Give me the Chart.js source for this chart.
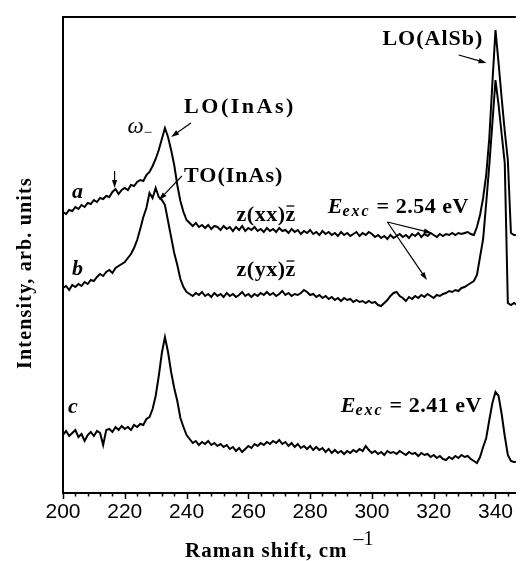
<!DOCTYPE html>
<html>
<head>
<meta charset="utf-8">
<script src="https://cdn.jsdelivr.net/npm/chart.js@4.4.0/dist/chart.umd.min.js"></script>
<style>
  html, body { margin: 0; padding: 0; background: #fff; }
</style>
</head>
<body>
<canvas id="raman" width="520" height="561"></canvas>
<script>
// Raman shift grid, cm^-1
const shift = [
  200,201,202,203,204,205,206,207,208,209,
  210,211,212,213,214,215,216,217,218,219,
  220,221,222,223,224,225,226,227,228,229,
  230,231,232,233,234,235,236,237,238,239,
  240,241,242,243,244,245,246,247,248,249,
  250,251,252,253,254,255,256,257,258,259,
  260,261,262,263,264,265,266,267,268,269,
  270,271,272,273,274,275,276,277,278,279,
  280,281,282,283,284,285,286,287,288,289,
  290,291,292,293,294,295,296,297,298,299,
  300,301,302,303,304,305,306,307,308,309,
  310,311,312,313,314,315,316,317,318,319,
  320,321,322,323,324,325,326,327,328,329,
  330,331,332,333,334,335,336,337,338,339,
  340,341,342,343,344,345,346,347
];

// spectrum a: z(xx)z, Eexc = 2.54 eV (offset, arb. units)
const specA = [
  281,279,283,282,286,284,288,286,290,289,
  293,291,295,294,297,296,301,304,299,303,
  305,303,308,307,311,313,312,318,321,327,
  334,343,354,365,356,343,328,308,292,281,
  273,270,267,270,266,268,265,268,264,267,
  266,263,267,264,266,262,266,263,267,262,
  265,263,266,262,264,261,265,262,264,261,
  265,262,263,260,264,261,263,259,262,260,
  263,259,261,258,262,259,261,258,260,257,
  261,258,260,257,259,261,257,260,258,261,
  259,256,258,255,257,254,258,255,257,259,
  256,258,255,259,257,260,256,259,257,260,
  258,256,259,257,259,258,260,258,260,259,
  260,261,259,258,266,278,295,318,355,410,
  463,430,395,362,333,260,258,258
];

// spectrum b: z(yx)z, Eexc = 2.54 eV
const specB = [
  205,207,203,208,206,209,207,211,209,213,
  212,216,219,217,221,223,220,225,227,229,
  231,235,239,245,253,264,276,285,300,295,
  305,296,293,288,272,256,240,228,214,206,
  201,199,197,200,198,201,197,199,196,200,
  197,199,196,200,197,199,196,198,201,197,
  199,196,199,197,200,198,201,198,200,197,
  199,202,198,200,197,199,198,200,203,201,
  198,199,196,198,195,197,194,196,193,195,
  192,195,193,194,191,193,191,192,190,192,
  190,191,188,187,190,193,197,200,201,197,
  195,192,196,194,197,195,198,196,199,197,
  195,198,197,199,200,202,201,203,202,205,
  206,208,210,212,218,236,254,290,328,370,
  413,388,359,330,190,188,190,188
];

// spectrum c: Eexc = 2.41 eV
const specC = [
  58,62,57,60,63,56,59,52,58,61,
  57,62,60,48,63,64,61,66,63,67,
  64,66,63,68,66,69,68,74,76,84,
  97,117,140,156,141,121,105,92,75,66,
  58,54,50,52,48,51,49,52,48,50,
  47,49,46,48,44,46,42,45,41,44,
  47,45,49,47,50,48,51,49,52,50,
  53,49,51,47,50,46,49,45,47,44,
  47,43,46,43,45,41,44,40,43,40,
  42,39,42,40,43,41,44,42,47,43,
  40,42,39,41,38,42,40,41,39,42,
  40,38,41,39,40,37,40,38,39,36,
  38,35,37,34,33,36,34,37,35,38,
  36,37,34,32,30,36,46,55,73,90,
  101,97,79,57,38,32,31,31
];

const xTicks = [200, 220, 240, 260, 280, 300, 320, 340];

const serif = '"Liberation Serif", "Times New Roman", serif';

// text runs: [text, style, size, baseline shift, letter spacing, overbar]
const notes = [
  { at: [239.2, 380], runs: [['LO(InAs)', 'bold', 22, 0, 2.5]] },
  { at: [220.9, 360], runs: [['\u03c9', 'italic', 23, 0, 0], ['\u2212', 'normal', 15, 4, 0]] },
  { at: [239.2, 311], runs: [['TO(InAs)', 'bold', 22, 0, 1]] },
  { at: [202.9, 295], runs: [['a', 'italic bold', 22, 0, 0]] },
  { at: [202.9, 218], runs: [['b', 'italic bold', 22, 0, 0]] },
  { at: [201.6, 80], runs: [['c', 'italic bold', 22, 0, 0]] },
  { at: [256.2, 272], runs: [['z(xx)', 'bold', 22, 0, 0.5], ['z', 'bold', 22, 0, 0, true]] },
  { at: [256.2, 217], runs: [['z(yx)', 'bold', 22, 0, 0.5], ['z', 'bold', 22, 0, 0, true]] },
  { at: [285.7, 280], runs: [['E', 'italic bold', 22, 0, 0], ['exc', 'italic bold', 16, 3, 2], [' = 2.54 eV', 'bold', 22, 0, 0.5]] },
  { at: [289.9, 81], runs: [['E', 'italic bold', 22, 0, 0], ['exc', 'italic bold', 16, 3, 2], [' = 2.41 eV', 'bold', 22, 0, 0.5]] },
  { at: [303.4, 448], runs: [['LO(AlSb)', 'bold', 22, 0, 1]] }
];

const arrows = [
  [[241.4, 370], [235.0, 356]],
  [[238.5, 317], [231.1, 293]],
  [[216.7, 322], [216.7, 305]],
  [[305.0, 271], [319.4, 260]],
  [[305.0, 271], [317.8, 213]],
  [[328.1, 438], [337.1, 430]]
];

function series(ys) {
  return shift.map((x, i) => ({ x: x, y: ys[i] }));
}

function drawArrow(ctx, x0, y0, x1, y1) {
  const a = Math.atan2(y1 - y0, x1 - x0);
  const len = 8, half = 2.6;
  ctx.beginPath();
  ctx.moveTo(x0, y0);
  ctx.lineTo(x1 - Math.cos(a) * len * 0.7, y1 - Math.sin(a) * len * 0.7);
  ctx.stroke();
  ctx.beginPath();
  ctx.moveTo(x1, y1);
  ctx.lineTo(x1 - Math.cos(a) * len - Math.sin(a) * half, y1 - Math.sin(a) * len + Math.cos(a) * half);
  ctx.lineTo(x1 - Math.cos(a) * len + Math.sin(a) * half, y1 - Math.sin(a) * len - Math.cos(a) * half);
  ctx.closePath();
  ctx.fill();
}

const decorations = {
  id: 'decorations',
  afterDraw(chart) {
    const { ctx, chartArea: ca, scales: { x, y } } = chart;
    ctx.save();
    ctx.strokeStyle = '#000';
    ctx.fillStyle = '#000';

    // top frame line
    ctx.lineWidth = 2;
    ctx.beginPath();
    ctx.moveTo(ca.left - 1, ca.top);
    ctx.lineTo(ca.right, ca.top);
    ctx.stroke();

    // bottom axis ticks, major every 20 and minor every 4
    ctx.lineWidth = 1.5;
    for (let v = 200; v <= x.max; v += 4) {
      const px = Math.round(x.getPixelForValue(v)) + 0.5;
      const len = (v - 200) % 20 === 0 ? 6 : 3.5;
      ctx.beginPath();
      ctx.moveTo(px, ca.bottom);
      ctx.lineTo(px, ca.bottom + len);
      ctx.stroke();
    }

    // annotations
    ctx.textBaseline = 'alphabetic';
    ctx.textAlign = 'left';
    notes.forEach(n => {
      let cx = x.getPixelForValue(n.at[0]);
      const by = y.getPixelForValue(n.at[1]);
      n.runs.forEach(r => {
        ctx.font = r[1] + ' ' + r[2] + 'px ' + serif;
        ctx.letterSpacing = r[4] + 'px';
        ctx.fillText(r[0], cx, by + r[3]);
        const w = ctx.measureText(r[0]).width;
        if (r[5]) {
          ctx.lineWidth = 1.3;
          ctx.beginPath();
          ctx.moveTo(cx + 1, by - 15);
          ctx.lineTo(cx + w - 1, by - 15);
          ctx.stroke();
        }
        cx += w;
      });
    });
    ctx.letterSpacing = '0px';

    ctx.lineWidth = 1.2;
    arrows.forEach(a => {
      drawArrow(ctx,
        x.getPixelForValue(a[0][0]), y.getPixelForValue(a[0][1]),
        x.getPixelForValue(a[1][0]), y.getPixelForValue(a[1][1]));
    });

    // axis titles
    ctx.font = 'bold 21px ' + serif;
    ctx.letterSpacing = '1px';
    ctx.fillText('Raman shift, cm', 185, 557);
    const tw = ctx.measureText('Raman shift, cm').width;
    ctx.font = '20px ' + serif;
    ctx.letterSpacing = '0px';
    ctx.fillText('\u20131', 185 + tw + 6, 545);

    ctx.save();
    ctx.translate(31, 273);
    ctx.rotate(-Math.PI / 2);
    ctx.textAlign = 'center';
    ctx.font = 'bold 20px ' + serif;
    ctx.letterSpacing = '1.2px';
    ctx.fillText('Intensity, arb. units', 0, 0);
    ctx.restore();

    ctx.restore();
  }
};

const lineStyle = {
  borderColor: '#000',
  borderWidth: 2,
  pointRadius: 0,
  tension: 0,
  fill: false
};

new Chart(document.getElementById('raman').getContext('2d'), {
  type: 'line',
  data: {
    datasets: [
      Object.assign({ label: 'a', data: series(specA) }, lineStyle),
      Object.assign({ label: 'b', data: series(specB) }, lineStyle),
      Object.assign({ label: 'c', data: series(specC) }, lineStyle)
    ]
  },
  options: {
    responsive: false,
    animation: false,
    layout: { padding: { top: 17, right: 0, left: 0, bottom: 0 } },
    plugins: { legend: { display: false }, tooltip: { enabled: false } },
    scales: {
      x: {
        type: 'linear',
        min: 200,
        max: 346.6,
        afterFit: s => { s.height = 68; },
        afterBuildTicks: s => { s.ticks = xTicks.map(v => ({ value: v })); },
        grid: { display: false, drawTicks: false },
        border: { display: true, color: '#000', width: 2 },
        ticks: {
          padding: 7,
          maxRotation: 0,
          autoSkip: false,
          color: '#000',
          font: { family: '"Liberation Sans", Arial, sans-serif', size: 21 }
        }
      },
      y: {
        min: 0,
        max: 476,
        afterFit: s => { s.width = 63; },
        grid: { display: false, drawTicks: false },
        border: { display: true, color: '#000', width: 2 },
        ticks: { display: false }
      }
    }
  },
  plugins: [decorations]
});
</script>
</body>
</html>
